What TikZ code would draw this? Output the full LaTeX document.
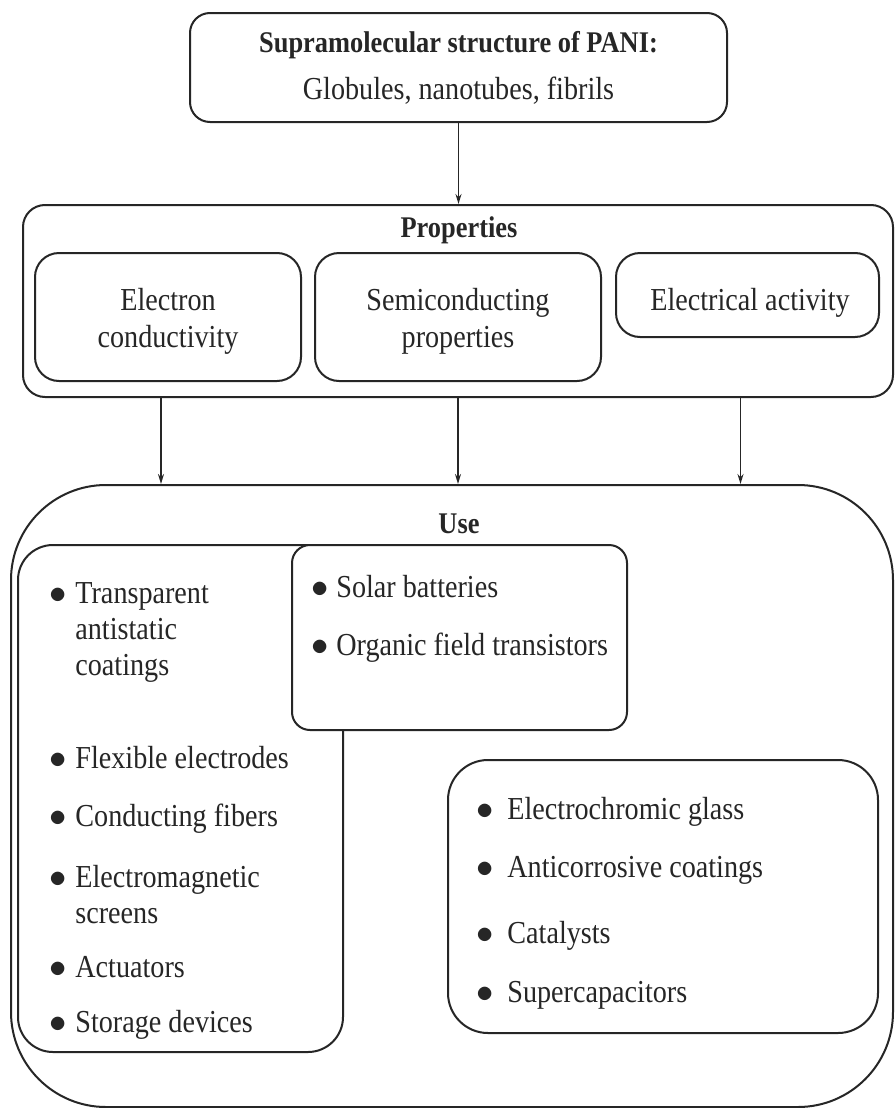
\documentclass[tikz,border=0pt]{standalone}
\usepackage{fontspec}
\setmainfont{Liberation Serif}[FakeStretch=0.88]
\usetikzlibrary{arrows.meta}
\definecolor{ink}{gray}{0.15}

% bulleted entry; the optional argument is the gap from bullet to text
\newcommand{\bitem}[2][13pt]{\parbox[t]{170pt}{\hangindent=#1\hangafter=1\makebox[#1][l]{$\bullet$}#2}}

\begin{document}
\begin{tikzpicture}[x=0.5pt,y=-0.5pt,
  box/.style={draw=ink, line width=1pt, fill=white, inner sep=0pt},
  txt/.style={inner sep=0pt, anchor=base, text=ink, font=\fontsize{16}{18.5}\selectfont},
  lst/.style={inner sep=0pt, anchor=base west, text=ink, font=\fontsize{16}{18}\selectfont},
  hd/.style={inner sep=0pt, anchor=base, text=ink, font=\fontsize{15}{18}\selectfont\bfseries},
  arr/.style={draw=ink, line width=0.8pt, -{Stealth[length=5pt,width=3pt]}}]

\useasboundingbox (0,0) rectangle (895,1108);

% structure
\node[box, minimum width=268.5pt, minimum height=54.5pt, rounded corners=10pt] (top) at (458.5,67.5) {};
\node[txt, font=\fontsize{16}{24}\selectfont] (toptxt) at (458.5,52)
  {\begin{tabular}[t]{@{}c@{}}\fontsize{15}{24}\selectfont\bfseries Supramolecular structure of PANI:\\ Globules, nanotubes, fibrils\end{tabular}};

% properties
\node[box, minimum width=435pt, minimum height=96pt, rounded corners=11pt] (props) at (458,301) {};
\node[hd] (propstxt) at (459,237) {Properties};
\node[box, minimum width=133pt, minimum height=64pt, rounded corners=12pt] (e1) at (168,317) {};
\node[txt] (e1txt) at (168,310) {\begin{tabular}[t]{@{}c@{}}Electron\\conductivity\end{tabular}};
\node[box, minimum width=143pt, minimum height=64pt, rounded corners=12pt] (e2) at (458,317) {};
\node[txt] (e2txt) at (458,310) {\begin{tabular}[t]{@{}c@{}}Semiconducting\\properties\end{tabular}};
\node[box, minimum width=131.5pt, minimum height=42pt, rounded corners=12pt] (e3) at (747.5,295) {};
\node[txt] (e3txt) at (750,310) {Electrical activity};

% use
\node[box, minimum width=441pt, minimum height=311pt, rounded corners=47.5pt] (use) at (452,796) {};
\node[hd] (usetxt) at (459,533) {Use};
\node[box, minimum width=162.5pt, minimum height=253.5pt, rounded corners=17.5pt] (lbox) at (180.5,798.5) {};
\node[box, minimum width=167.5pt, minimum height=92.5pt, rounded corners=9pt] (sbox) at (459.5,637.5) {};
\node[box, minimum width=215pt, minimum height=136.5pt, rounded corners=20pt] (rbox) at (663,896.5) {};

% left column
\node[lst] (l1) at (49,603) {\bitem{Transparent\\antistatic\\coatings}};
\node[lst] (l2) at (49,768) {\bitem{Flexible electrodes}};
\node[lst] (l3) at (49,826) {\bitem{Conducting fibers}};
\node[lst] (l4) at (49,887) {\bitem{Electromagnetic\\screens}};
\node[lst] (l5) at (49,977) {\bitem{Actuators}};
\node[lst] (l6) at (49,1032) {\bitem{Storage devices}};

% semiconductor uses
\node[lst] (s1) at (311,597) {\bitem[12.5pt]{Solar batteries}};
\node[lst] (s2) at (311,655) {\bitem[12.5pt]{Organic field transistors}};

% electrical activity uses
\node[lst] (r1) at (476,819) {\bitem[15.5pt]{Electrochromic glass}};
\node[lst] (r2) at (476,877) {\bitem[15.5pt]{Anticorrosive coatings}};
\node[lst] (r3) at (476,943) {\bitem[15.5pt]{Catalysts}};
\node[lst] (r4) at (476,1002) {\bitem[15.5pt]{Supercapacitors}};

% connectors
\coordinate (a1) at ([xshift=-3.5pt]e1.south);
\coordinate (a2) at (e2.south);
\coordinate (a3) at ([xshift=-3.5pt]e3.south);
\draw[arr] (top.south) -- (top.south |- props.north);
\draw[arr] (a1 |- props.south) -- (a1 |- use.north);
\draw[arr] (a2 |- props.south) -- (a2 |- use.north);
\draw[arr] (a3 |- props.south) -- (a3 |- use.north);
\end{tikzpicture}
\end{document}
